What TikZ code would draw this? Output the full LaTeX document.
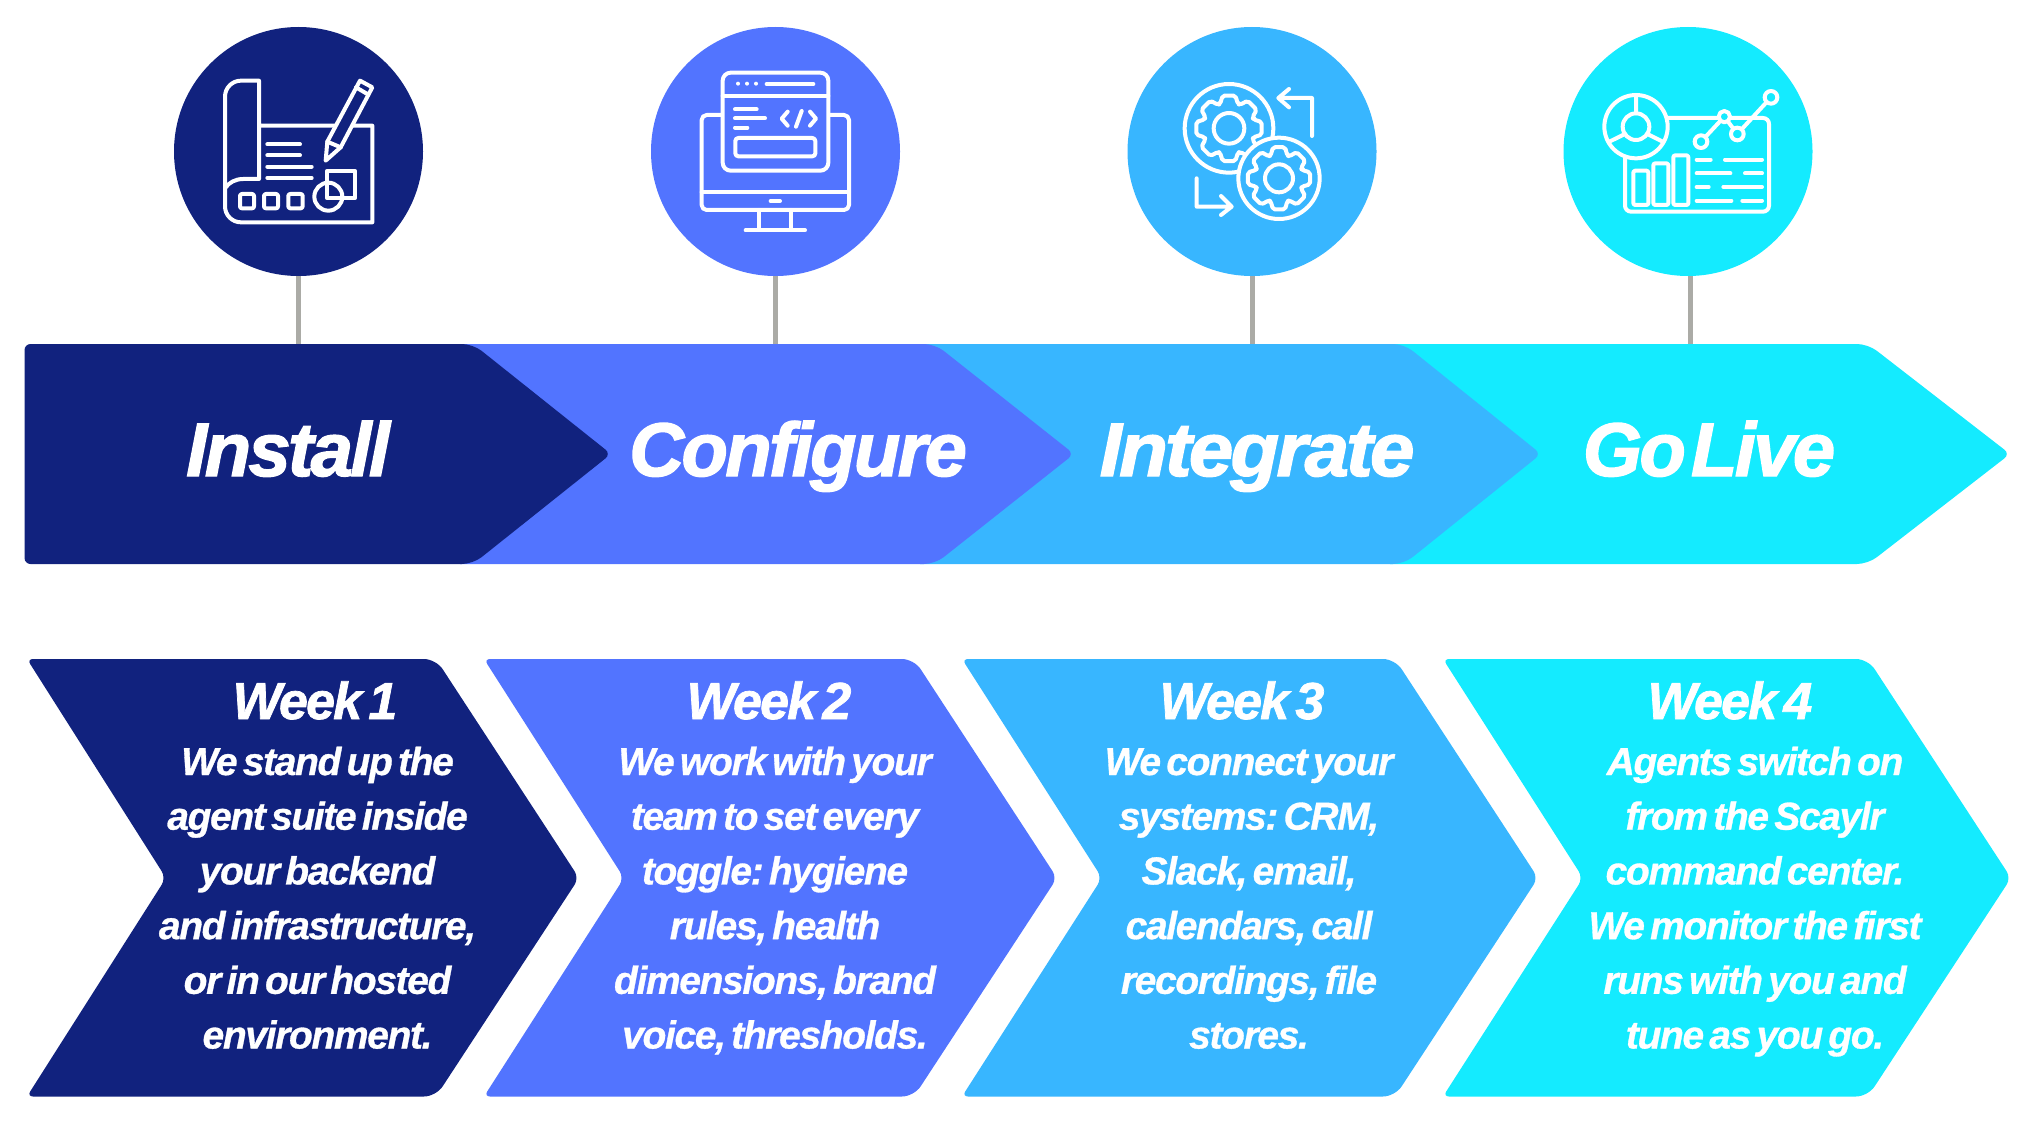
\documentclass[tikz,border=0pt]{standalone}
\usepackage{fontspec}
\setmainfont{Liberation Sans}
\newfontfamily\titlefont[LetterSpace=-3.5,FakeBold=1.8,WordSpace=0.5,Ligatures=NoCommon]{Liberation Sans Bold Italic}
\newfontfamily\weekfont[LetterSpace=-3.5,FakeBold=1.4,WordSpace=0.5,Ligatures=NoCommon]{Liberation Sans Bold Italic}
\newfontfamily\bodyfont[LetterSpace=-3.5,FakeBold=0.8,WordSpace=0.55,Ligatures=NoCommon]{Liberation Sans Bold Italic}
\definecolor{cnavy}{HTML}{11227E}
\definecolor{cblue}{HTML}{5274FF}
\definecolor{csky}{HTML}{38B6FF}
\definecolor{ccyan}{HTML}{14EBFF}
\definecolor{cstem}{HTML}{ABABA6}
\tikzset{
  iconcircle/.style={circle,minimum size=249pt,inner sep=0pt,fill=#1},
  stem/.style={draw=cstem,line width=5pt},
  iconline/.style={draw=white,line width=4pt,line cap=round,line join=round},
  bigtitle/.style={text=white,font=\titlefont\fontsize{76}{76}\selectfont,inner sep=0pt,anchor=base},
  weektitle/.style={text=white,font=\weekfont\fontsize{52}{52}\selectfont,inner sep=0pt,anchor=base},
  weekbody/.style={text=white,font=\bodyfont\fontsize{39}{54.7}\selectfont\frenchspacing,align=center,inner sep=0pt,anchor=base},
}
\begin{document}
\begin{tikzpicture}[x=1pt,y=-1pt]
\useasboundingbox (0,0) rectangle (2032,1134);
% stems
\coordinate (s1) at (298.5,346);
\coordinate (s2) at (775.7,346);
\coordinate (s3) at (1252,346);
\coordinate (s4) at (1690.5,346);
% circles
\node[iconcircle=cnavy] (c1) at (298.5,151.5) {};
\node[iconcircle=cblue] (c2) at (775.5,151.5) {};
\node[iconcircle=csky] (c3) at (1252,151.5) {};
\node[iconcircle=ccyan] (c4) at (1688,151.5) {};
\draw[stem] (s1 |- c1.south) -- (s1);
\draw[stem] (s2 |- c2.south) -- (s2);
\draw[stem] (s3 |- c3.south) -- (s3);
\draw[stem] (s4 |- c4.south) -- (s4);
% big arrows
\fill[ccyan] (1500,344) [rounded corners=11pt] -- (1868,344) [rounded corners=7pt] -- (2010,454) [rounded corners=11pt] -- (1868,564) [sharp corners] -- (1390,564) -- (1390,344) -- cycle;
\fill[csky] (1100,344) [rounded corners=11pt] -- (1404,344) [rounded corners=7pt] -- (1541,454) [rounded corners=11pt] -- (1404,564) [sharp corners] -- (920,564) -- (920,344) -- cycle;
\fill[cblue] (700,344) [rounded corners=11pt] -- (935,344) [rounded corners=7pt] -- (1074,454) [rounded corners=11pt] -- (935,564) [sharp corners] -- (460,564) -- (460,344) -- cycle;
\fill[cnavy] (200,344) [rounded corners=11pt] -- (473,344) [rounded corners=7pt] -- (611,454) [rounded corners=11pt] -- (473,564) [rounded corners=6pt] -- (24.5,564) -- (24.5,344) [sharp corners] -- cycle;
% lower chevrons
\fill[cnavy] (200,659) [rounded corners=12pt] -- (436,659) [rounded corners=8pt] -- (579,878) [rounded corners=12pt] -- (436,1096.5) [rounded corners=6pt] -- (27,1096.5) [rounded corners=8pt] -- (166,878) [rounded corners=6pt] -- (27,659) [sharp corners] -- cycle;
\fill[cblue] (700,659) [rounded corners=12pt] -- (914,659) [rounded corners=8pt] -- (1057,878) [rounded corners=12pt] -- (914,1096.5) [rounded corners=6pt] -- (484,1096.5) [rounded corners=8pt] -- (624,878) [rounded corners=6pt] -- (484,659) [sharp corners] -- cycle;
\fill[csky] (1200,659) [rounded corners=12pt] -- (1395,659) [rounded corners=8pt] -- (1538,878) [rounded corners=12pt] -- (1395,1096.5) [rounded corners=6pt] -- (962,1096.5) [rounded corners=8pt] -- (1102,878) [rounded corners=6pt] -- (962,659) [sharp corners] -- cycle;
\fill[ccyan] (1650,659) [rounded corners=12pt] -- (1868,659) [rounded corners=8pt] -- (2011,878) [rounded corners=12pt] -- (1868,1096.5) [rounded corners=6pt] -- (1443,1096.5) [rounded corners=8pt] -- (1583,878) [rounded corners=6pt] -- (1443,659) [sharp corners] -- cycle;
% titles
\node[bigtitle] (t1) at (288,476) {Install};
\node[bigtitle] (t2) at (798,476) {Configure};
\node[bigtitle] (t3) at (1257,476) {\scalebox{1.05}[1]{Integrate}};
\node[bigtitle] (t4) at (1709,476) {Go\hspace{-4pt} Live};
% week headings
\node[weektitle] (w1) at (315,719) {Week 1};
\node[weektitle] (w2) at (769,719) {Week 2};
\node[weektitle] (w3) at (1242,719) {Week 3};
\node[weektitle] (w4) at (1730,719) {Week 4};
% week bodies
\node[weekbody] (b1) at (317.5,1048.5) {We stand up the\\agent suite inside\\your backend\\and infrastructure,\\or in our hosted\\environment.};
\node[weekbody] (b2) at (775,1048.5) {We work with your\\team to set every\\toggle: hygiene\\rules, health\\dimensions, brand\\voice, thresholds.};
\node[weekbody] (b3) at (1249,1048.5) {We connect your\\systems: CRM,\\Slack, email,\\calendars, call\\recordings, file\\stores.};
\node[weekbody] (b4) at (1755,1048.5) {Agents switch on\\from the Scaylr\\command center.\\We monitor the first\\runs with you and\\tune as you go.};
% icon 1
\begin{scope}[shift={(150,10)},scale=0.33333]
\draw[iconline] (327,347) -- (327,212) [rounded corners=16pt] -- (225,212) -- (225,637) [rounded corners=0pt] -- (667,637) -- (667,347) -- cycle;
\draw[iconline] (327,347) -- (327,507) -- (280,507) .. controls (255,507) and (238,518) .. (227,532);
\draw[iconline] (352,403) -- (450,403) (352,436) -- (450,436) (352,470) -- (485,470) (352,504) -- (485,504);
\draw[iconline,rounded corners=2pt] (270,552) rectangle (312,595) (342,552) rectangle (384,595) (415,552) rectangle (458,595);
\draw[iconline] (532,482) rectangle (614,565);
\draw[iconline] (535,560) circle[radius=42];
\draw[iconline,fill=cnavy] (630,212) -- (667,232) -- (572,412) -- (527,452) -- (532,395) -- cycle;
\draw[iconline] (532,395) -- (572,412) (618,232) -- (652,252);
\end{scope}
% icon 2
\begin{scope}[shift={(630,10)},scale=0.33333]
\draw[iconline,rounded corners=5pt] (275,315) -- (215,315) -- (215,600) -- (657,600) -- (657,315) -- (597,315);
\draw[iconline] (215,547) -- (657,547) (422,573) -- (450,573) (387,600) -- (387,660) (484,600) -- (484,660) (347,661) -- (525,661);
\draw[iconline,rounded corners=8pt] (278,188) rectangle (595,482);
\draw[iconline] (278,257) -- (595,257) (410,222) -- (550,222);
\fill[white] (324,221) circle[radius=6] (351,221) circle[radius=6] (378,221) circle[radius=6];
\draw[iconline] (315,298) -- (380,298) (315,325) -- (405,325) (315,353) -- (352,353);
\draw[iconline] (473,305) -- (455,326) -- (473,347) (515,303) -- (498,350) (540,305) -- (558,326) -- (540,347);
\draw[iconline,rounded corners=3pt] (316,384) rectangle (556,439);
\end{scope}
% icon 3
\begin{scope}[shift={(1110,10)},scale=0.33333]
\draw[iconline] (357,355) circle[radius=133];
\draw[iconline,rounded corners=2pt,shift={(357,355)}] (-20:78)
  \foreach \a in {0,45,...,315} { -- ({\a-20}:78) -- ({\a-11}:100) -- ({\a+11}:100) -- ({\a+20}:78) } -- cycle;
\draw[iconline] (357,355) circle[radius=46];
\draw[iconline,fill=csky] (507,505) circle[radius=122];
\draw[iconline,rounded corners=2pt,shift={(507,505)}] (-20:73)
  \foreach \a in {0,45,...,315} { -- ({\a-20}:73) -- ({\a-11}:95) -- ({\a+11}:95) -- ({\a+20}:73) } -- cycle;
\draw[iconline] (507,505) circle[radius=42];
\draw[iconline] (606,378) -- (606,264) -- (505,264) (537,237) -- (505,264) -- (537,292);
\draw[iconline] (260,505) -- (260,590) -- (365,590) (333,558) -- (365,590) -- (333,615);
\end{scope}
% icon 4
\begin{scope}[shift={(1550,10)},scale=0.33333]
\draw[iconline,rounded corners=6pt] (350,324) -- (657,324) -- (657,605) -- (225,605) -- (225,445);
\draw[iconline,fill=ccyan] (258,350) circle[radius=95];
\draw[iconline] (258,350) circle[radius=40];
\draw[iconline] (258,262) -- (258,310) (178,395) -- (225,372) (338,395) -- (292,372);
\draw[iconline,rounded corners=2pt] (250,482) rectangle (295,585) (310,460) rectangle (355,585) (370,436) rectangle (415,585);
\draw[iconline] (440,449) -- (482,449) (525,449) -- (636,449) (440,490) -- (541,490) (585,490) -- (636,490) (440,531) -- (476,531) (520,531) -- (636,531) (440,572) -- (544,572) (577,572) -- (636,572);
\draw[iconline] (453,395) -- (523,320) -- (562,372) -- (663,262);
\draw[iconline,fill=ccyan] (453,395) circle[radius=19] (523,320) circle[radius=17] (562,372) circle[radius=19] (663,262) circle[radius=19];
\end{scope}
\end{tikzpicture}
\end{document}
